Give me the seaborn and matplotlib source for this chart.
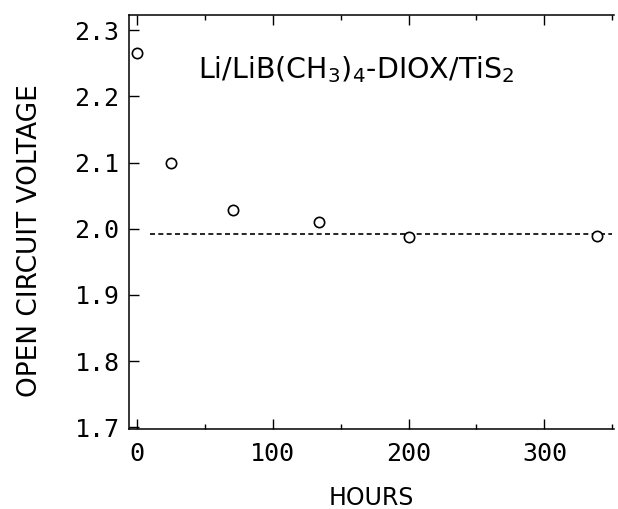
import seaborn as sns
import matplotlib.pyplot as plt
import pandas as pd
from matplotlib.ticker import MultipleLocator

hours = [0, 25, 71, 134, 200, 339]
voltage = [2.265, 2.10, 2.028, 2.01, 1.988, 1.989]
ref_hours = [10, 350]
ref_voltage = [1.992, 1.992]
x_ticks = [0, 100, 200, 300]
y_ticks = [1.7, 1.8, 1.9, 2.0, 2.1, 2.2, 2.3]

data = pd.DataFrame({"hours": hours, "voltage": voltage})
ref = pd.DataFrame({"hours": ref_hours, "voltage": ref_voltage})

sns.set_style("ticks")
plt.rcParams["text.color"] = "black"
plt.rcParams["axes.labelcolor"] = "black"
plt.rcParams["xtick.color"] = "black"
plt.rcParams["ytick.color"] = "black"

fig = plt.figure(figsize=(6.18, 5.09), dpi=100)
ax = fig.add_axes([0.209, 0.1566, 0.784, 0.814])

sns.lineplot(data=ref, x="hours", y="voltage", ax=ax, color="black",
             linestyle=(0, (3, 2)), linewidth=1.2)
sns.scatterplot(data=data, x="hours", y="voltage", ax=ax, marker="o", s=55,
                facecolor="white", edgecolor="black", linewidth=1.2, zorder=3)

ax.set_xlim(-5.7, 351)
ax.set_ylim(1.697, 2.323)
ax.set_xticks(x_ticks)
ax.set_yticks(y_ticks)
ax.set_yticklabels([f"{v:.1f}" for v in y_ticks])
ax.xaxis.set_minor_locator(MultipleLocator(50))
ax.tick_params(which="both", direction="in", top=True, right=False,
               labelsize=18, width=1)
ax.tick_params(which="major", length=7)
ax.tick_params(which="minor", length=3.5)
ax.tick_params(axis="x", which="major", pad=9)
ax.tick_params(axis="y", which="major", pad=7)
for lab in ax.get_xticklabels() + ax.get_yticklabels():
    lab.set_family("DejaVu Sans Mono")
ax.spines["right"].set_visible(False)
for s in ["left", "top", "bottom"]:
    ax.spines[s].set_linewidth(1.1)
    ax.spines[s].set_color("black")

ax.set_xlabel("HOURS", fontsize=17)
ax.set_ylabel("OPEN CIRCUIT VOLTAGE", fontsize=19)
ax.xaxis.set_label_coords(0.499, -0.137)
ax.yaxis.set_label_coords(-0.178, 0.455)
ax.text(0.142, 0.848, r"Li/LiB(CH$_3$)$_4$-DIOX/TiS$_2$", transform=ax.transAxes,
        fontsize=20.5, va="baseline", ha="left")

fig.savefig("out.png", dpi=100)
